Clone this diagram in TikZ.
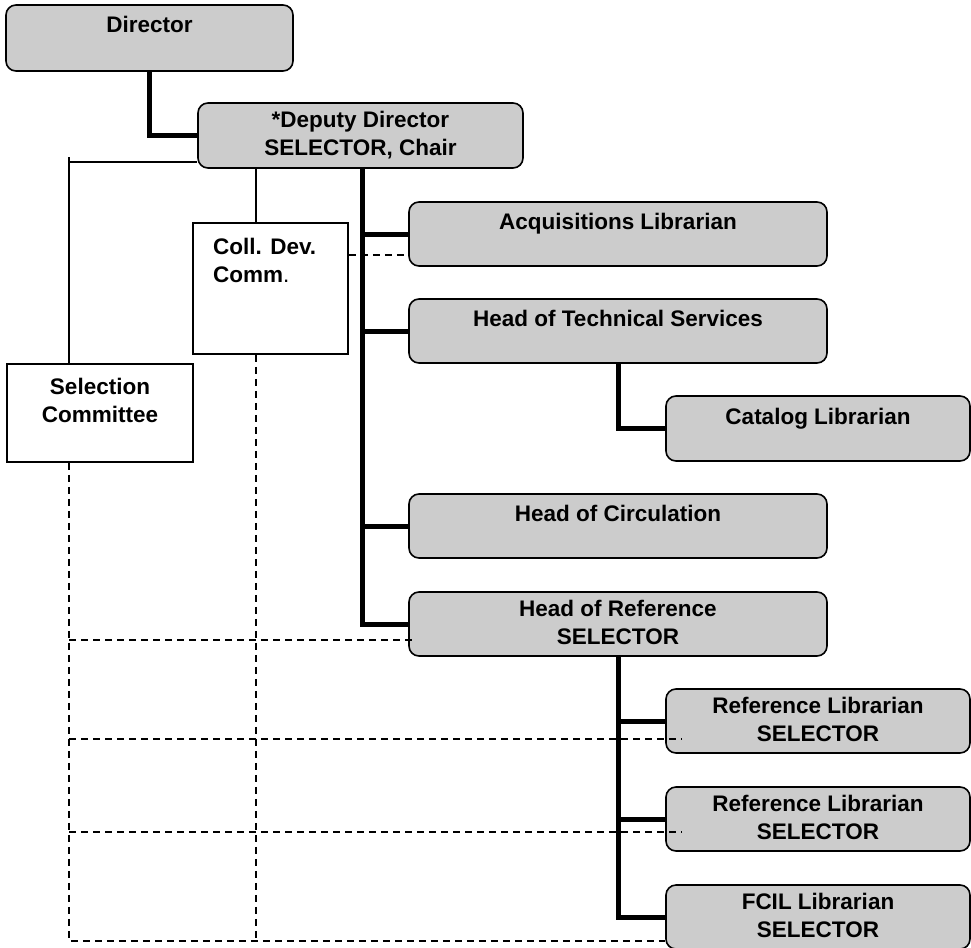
\documentclass[tikz,border=0pt]{standalone}
\usepackage{fontspec}
\setmainfont{Liberation Sans}
\definecolor{boxgray}{RGB}{204,204,204}
\begin{document}
\begin{tikzpicture}[x=1pt,y=-1pt,
  orgbox/.style={draw, line width=1.6, fill=boxgray, rounded corners=10, inner sep=0pt},
  plainbox/.style={draw, line width=1.5, fill=white, inner sep=0pt},
  lbl/.style={inner sep=0pt, anchor=base, font=\fontsize{22.5}{28}\selectfont\bfseries, align=center},
  heavy/.style={line width=5},
  light/.style={line width=1.3},
  dotted line/.style={line width=1.3, dash pattern=on 7 off 5}]
\useasboundingbox (0,0) rectangle (971,947);

% ---- boxes ----
\node[orgbox, minimum width=287, minimum height=66] (dir)  at (149.5,38) {};
\node[orgbox, minimum width=325, minimum height=65] (dep)  at (360.5,135.5) {};
\node[orgbox, minimum width=418, minimum height=64] (acq)  at (618,234) {};
\node[orgbox, minimum width=418, minimum height=64] (tech) at (618,331) {};
\node[orgbox, minimum width=304, minimum height=65] (cat)  at (818,428.5) {};
\node[orgbox, minimum width=418, minimum height=64] (circ) at (618,526) {};
\node[orgbox, minimum width=418, minimum height=64] (ref)  at (618,624) {};
\node[orgbox, minimum width=304, minimum height=64] (rla)  at (818,721) {};
\node[orgbox, minimum width=304, minimum height=64] (rlb)  at (818,819) {};
\node[orgbox, minimum width=304, minimum height=64] (fcil) at (818,917) {};
\node[plainbox, minimum width=155, minimum height=131] (coll) at (270.5,288.5) {};
\node[plainbox, minimum width=186, minimum height=98]  (sel)  at (100,413) {};

% ---- box texts (anchored on the baseline of the last line) ----
\node[lbl] (dir-t)  at ([yshift=-28]dir.north)  {Director};
\node[lbl] (dep-t)  at ([yshift=-53]dep.north)  {*Deputy Director\\SELECTOR, Chair};
\node[lbl] (acq-t)  at ([yshift=-28]acq.north)  {Acquisitions Librarian};
\node[lbl] (tech-t) at ([yshift=-28]tech.north) {Head of Technical Services};
\node[lbl] (cat-t)  at ([yshift=-29]cat.north)  {Catalog Librarian};
\node[lbl] (circ-t) at ([yshift=-28]circ.north) {Head of Circulation};
\node[lbl] (ref-t)  at ([yshift=-53]ref.north)  {Head of Reference\\SELECTOR};
\node[lbl] (rla-t)  at ([yshift=-53]rla.north)  {Reference Librarian\\SELECTOR};
\node[lbl] (rlb-t)  at ([yshift=-53]rlb.north)  {Reference Librarian\\SELECTOR};
\node[lbl] (fcil-t) at ([yshift=-53]fcil.north) {FCIL Librarian\\SELECTOR};
\node[lbl, anchor=base west, align=left] (coll-t) at (213,282) {Coll. Dev.\\Comm{\mdseries.}};
\node[lbl] (sel-t)  at ([yshift=-59]sel.north)  {Selection\\Committee};

% ---- guide coordinates ----
\coordinate (lx)   at (69,0);    % left committee rail
\coordinate (cx)   at (256,0);   % coll. dev. rail
\coordinate (sp)   at (362,0);   % main spine
\coordinate (tick) at (69,157);
\coordinate (tl)   at (0,162);
\coordinate (dacq) at (0,255);
\coordinate (dref) at (0,640);
\coordinate (drla) at (0,739);
\coordinate (drlb) at (0,832);
\coordinate (bot)  at (0,941);

% ---- solid reporting lines ----
\draw[heavy] (dir.south) |- (dep.west);
\draw[heavy] (dep.south -| sp) |- (ref.west);
\draw[heavy] (sp |- acq.west) -- (acq.west);
\draw[heavy] (sp |- tech.west) -- (tech.west);
\draw[heavy] (sp |- circ.west) -- (circ.west);
\draw[heavy] (tech.south) |- (cat.west);
\draw[heavy] (ref.south) |- (fcil.west);
\draw[heavy] (ref.south |- rla.west) -- (rla.west);
\draw[heavy] (ref.south |- rlb.west) -- (rlb.west);

% ---- thin committee lines ----
\draw[light] (tick) -- (sel.north -| lx);
\draw[light] (lx |- tl) -- (dep.west |- tl);
\draw[light] (dep.south -| cx) -- (coll.north -| cx);

% ---- dashed selector links ----
\draw[dotted line] (coll.east |- dacq) -- (acq.west |- dacq);
\draw[dotted line] (sel.south -| lx) -- (lx |- bot) -- (fcil.west |- bot);
\draw[dotted line] (coll.south -| cx) -- (cx |- bot);
\draw[dotted line] (lx |- dref) -- ([xshift=5]ref.west |- dref);
\draw[dotted line] (lx |- drla) -- ([xshift=16]rla.west |- drla);
\draw[dotted line] (lx |- drlb) -- ([xshift=16]rlb.west |- drlb);
\end{tikzpicture}
\end{document}
